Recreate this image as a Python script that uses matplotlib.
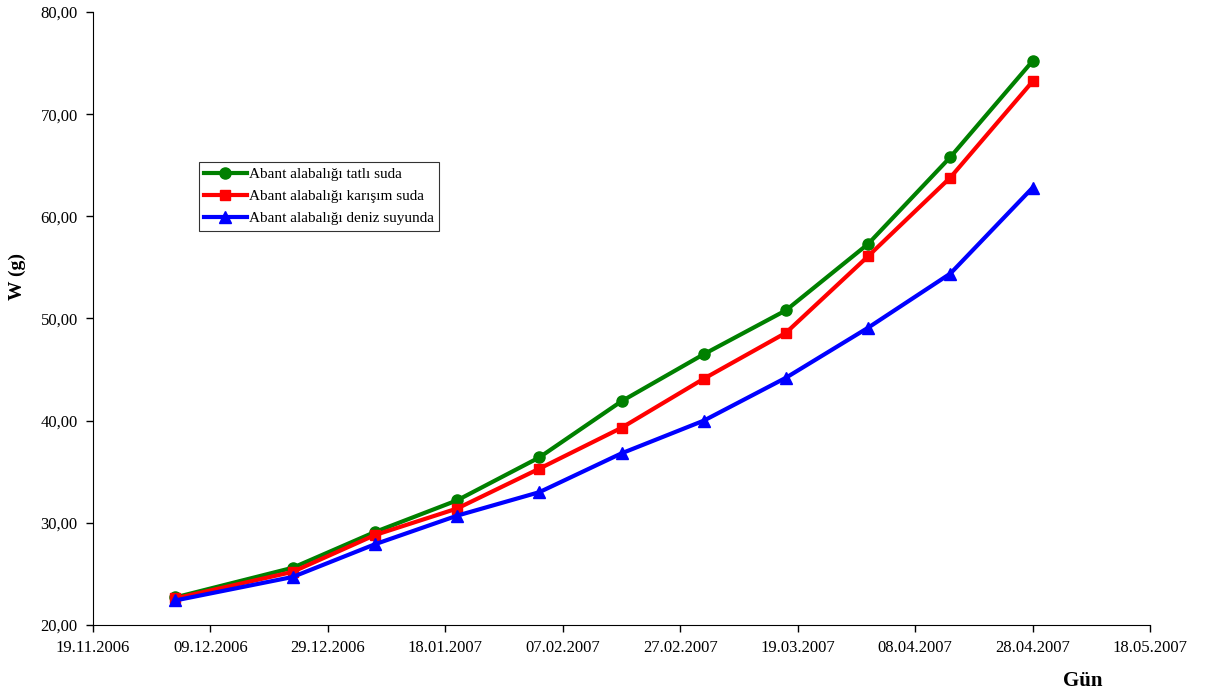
import matplotlib
matplotlib.use('Agg')
import matplotlib.pyplot as plt
import matplotlib.dates as mdates
import pandas as pd

plt.rcParams['font.family'] = ['Liberation Serif', 'DejaVu Serif']

# sampling dates and mean weights (g)
tarih = ['03.12.2006', '23.12.2006', '06.01.2007', '20.01.2007', '03.02.2007',
         '17.02.2007', '03.03.2007', '17.03.2007', '31.03.2007', '14.04.2007',
         '28.04.2007']
tatli = [22.7, 25.6, 29.1, 32.2, 36.4, 41.9, 46.5, 50.8, 57.3, 65.8, 75.2]
karisim = [22.6, 25.2, 28.8, 31.4, 35.3, 39.3, 44.1, 48.6, 56.1, 63.8, 73.2]
deniz = [22.4, 24.7, 27.9, 30.7, 33.0, 36.8, 40.0, 44.2, 49.1, 54.4, 62.8]

etiketler = ['Abant alabalığı tatlı suda', 'Abant alabalığı karışım suda',
             'Abant alabalığı deniz suyunda']

gun = pd.to_datetime(tarih, format='%d.%m.%Y')

fig = plt.figure(figsize=(12.06, 6.97), dpi=100)
ax = fig.add_axes([0.0771, 0.1033, 0.8765, 0.8795])

ax.plot(gun, tatli, color='#008000', lw=3, marker='o', ms=8, label=etiketler[0])
ax.plot(gun, karisim, color='#ff0000', lw=3, marker='s', ms=7, label=etiketler[1])
ax.plot(gun, deniz, color='#0000ff', lw=3, marker='^', ms=8, label=etiketler[2])

ax.set_ylim(20, 80)
ax.set_yticks(range(20, 81, 10))
ax.set_yticklabels([f'{v},00' for v in range(20, 81, 10)])

ticks = pd.date_range('2006-11-19', '2007-05-18', freq='20D')
ax.set_xlim(ticks[0], ticks[-1])
ax.set_xticks(ticks)
ax.xaxis.set_major_formatter(mdates.DateFormatter('%d.%m.%Y'))

ax.tick_params(direction='out', length=5, width=1, labelsize=12, pad=6)
for s in ['top', 'right']:
    ax.spines[s].set_visible(False)

ax.set_ylabel('W (g)', fontsize=14, fontweight='bold')
ax.yaxis.set_label_coords(-0.063, 0.568)
fig.text(0.898, 0.016, 'Gün', fontsize=15, fontweight='bold', ha='center')

leg = ax.legend(loc='upper left', bbox_to_anchor=(0.1, 0.755), fontsize=11,
                frameon=True, fancybox=False, edgecolor='black',
                handlelength=2.8, borderpad=0.35, labelspacing=0.55,
                handletextpad=0.15, borderaxespad=0)
leg.get_frame().set_linewidth(0.8)

fig.savefig('out.png', dpi=100)
